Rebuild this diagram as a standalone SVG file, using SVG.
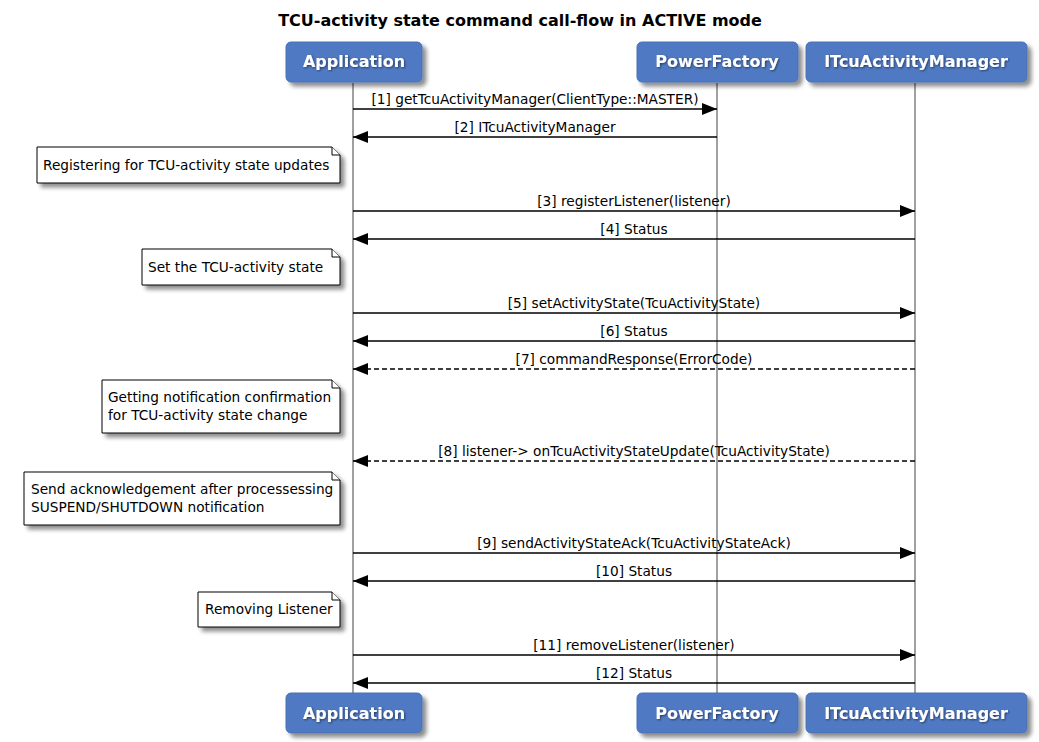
<svg xmlns="http://www.w3.org/2000/svg" width="1039" height="742" viewBox="0 0 1039 742">
<style>
.title{font-family:"DejaVu Sans",sans-serif;font-weight:bold;font-size:16px;fill:#000}
.pbox{fill:#5079C2;stroke:#4A70B5;stroke-width:1}
.pname{font-family:"DejaVu Sans",sans-serif;font-weight:bold;font-size:16px;fill:#fff;text-anchor:middle}
.life{stroke:#A0A0A0;stroke-width:2;fill:none}
.msg{stroke:#000;stroke-width:1.5;fill:none}
.dash{stroke-dasharray:5,3}
.lbl{font-family:"DejaVu Sans",sans-serif;font-size:13.7px;fill:#000;text-anchor:middle}
.note{fill:#fff;stroke:#000;stroke-width:1}
.ntxt{font-family:"DejaVu Sans",sans-serif;font-size:13.7px;fill:#000}
</style>
<defs>
<filter id="sh" x="-10%" y="-20%" width="130%" height="160%">
<feGaussianBlur in="SourceAlpha" stdDeviation="2"/>
<feOffset dx="4" dy="4" result="b"/>
<feComponentTransfer><feFuncA type="linear" slope="0.45"/></feComponentTransfer>
<feMerge><feMergeNode/><feMergeNode in="SourceGraphic"/></feMerge>
</filter>
<filter id="tsh" x="-10%" y="-30%" width="120%" height="160%">
<feGaussianBlur in="SourceAlpha" stdDeviation="1"/>
<feOffset dx="1" dy="1"/>
<feComponentTransfer><feFuncA type="linear" slope="0.5"/></feComponentTransfer>
<feMerge><feMergeNode/><feMergeNode in="SourceGraphic"/></feMerge>
</filter>
<marker id="ah" markerWidth="15" markerHeight="12" refX="15" refY="6" orient="auto" markerUnits="userSpaceOnUse">
<path d="M0,0 L15,6 L0,12 Z" fill="#000"/>
</marker>
</defs>
<rect width="1039" height="742" fill="#fff"/>
<text class="title" x="520" y="26" text-anchor="middle">TCU-activity state command call-flow in ACTIVE mode</text>

<g id="lifelines">
<line class="life" x1="353" y1="83" x2="353" y2="693"/>
<line class="life" x1="717" y1="83" x2="717" y2="693"/>
<line class="life" x1="915" y1="83" x2="915" y2="693"/>
</g>

<g id="application">
<rect class="pbox" x="286" y="42" width="136" height="40" rx="5" filter="url(#sh)"/>
<text class="pname" x="354" y="67" filter="url(#tsh)">Application</text>
<rect class="pbox" x="286" y="693" width="136" height="40" rx="5" filter="url(#sh)"/>
<text class="pname" x="354" y="719" filter="url(#tsh)">Application</text>
</g>
<g id="powerfactory">
<rect class="pbox" x="637" y="42" width="161" height="40" rx="5" filter="url(#sh)"/>
<text class="pname" x="717" y="67" filter="url(#tsh)">PowerFactory</text>
<rect class="pbox" x="637" y="693" width="161" height="40" rx="5" filter="url(#sh)"/>
<text class="pname" x="717" y="719" filter="url(#tsh)">PowerFactory</text>
</g>
<g id="itcuactivitymanager">
<rect class="pbox" x="806" y="42" width="221" height="40" rx="5" filter="url(#sh)"/>
<text class="pname" x="916" y="67" filter="url(#tsh)">ITcuActivityManager</text>
<rect class="pbox" x="806" y="693" width="221" height="40" rx="5" filter="url(#sh)"/>
<text class="pname" x="916" y="719" filter="url(#tsh)">ITcuActivityManager</text>
</g>

<g id="connectors">
<line class="msg" x1="353" y1="109" x2="717" y2="109" marker-end="url(#ah)"/>
<text class="lbl" x="535" y="104">[1] getTcuActivityManager(ClientType::MASTER)</text>
<line class="msg" x1="717" y1="137" x2="353" y2="137" marker-end="url(#ah)"/>
<text class="lbl" x="535" y="132">[2] ITcuActivityManager</text>
<line class="msg" x1="353" y1="211" x2="915" y2="211" marker-end="url(#ah)"/>
<text class="lbl" x="634" y="206">[3] registerListener(listener)</text>
<line class="msg" x1="915" y1="239" x2="353" y2="239" marker-end="url(#ah)"/>
<text class="lbl" x="634" y="234">[4] Status</text>
<line class="msg" x1="353" y1="313" x2="915" y2="313" marker-end="url(#ah)"/>
<text class="lbl" x="634" y="308">[5] setActivityState(TcuActivityState)</text>
<line class="msg" x1="915" y1="341" x2="353" y2="341" marker-end="url(#ah)"/>
<text class="lbl" x="634" y="336">[6] Status</text>
<line class="msg dash" x1="915" y1="369" x2="353" y2="369" marker-end="url(#ah)"/>
<text class="lbl" x="634" y="364">[7] commandResponse(ErrorCode)</text>
<line class="msg dash" x1="915" y1="461" x2="353" y2="461" marker-end="url(#ah)"/>
<text class="lbl" x="634" y="456">[8] listener-&gt; onTcuActivityStateUpdate(TcuActivityState)</text>
<line class="msg" x1="353" y1="553" x2="915" y2="553" marker-end="url(#ah)"/>
<text class="lbl" x="634" y="548">[9] sendActivityStateAck(TcuActivityStateAck)</text>
<line class="msg" x1="915" y1="581" x2="353" y2="581" marker-end="url(#ah)"/>
<text class="lbl" x="634" y="576">[10] Status</text>
<line class="msg" x1="353" y1="655" x2="915" y2="655" marker-end="url(#ah)"/>
<text class="lbl" x="634" y="650">[11] removeListener(listener)</text>
<line class="msg" x1="915" y1="683" x2="353" y2="683" marker-end="url(#ah)"/>
<text class="lbl" x="634" y="678">[12] Status</text>
</g>

<g id="note1">
<path class="note" d="M37,147 H332 L340,155 V183 H37 Z" filter="url(#sh)"/>
<path class="note" d="M332,147 V155 H340"/>
<text class="ntxt" x="43" y="170">Registering for TCU-activity state updates</text>
</g>
<g id="note2">
<path class="note" d="M142,249 H332 L340,257 V285 H142 Z" filter="url(#sh)"/>
<path class="note" d="M332,249 V257 H340"/>
<text class="ntxt" x="148" y="272">Set the TCU-activity state</text>
</g>
<g id="note3">
<path class="note" d="M102,380 H332 L340,388 V433 H102 Z" filter="url(#sh)"/>
<path class="note" d="M332,380 V388 H340"/>
<text class="ntxt" x="108" y="402">Getting notification confirmation</text>
<text class="ntxt" x="108" y="420">for TCU-activity state change</text>
</g>
<g id="note4">
<path class="note" d="M24,472 H332 L340,480 V525 H24 Z" filter="url(#sh)"/>
<path class="note" d="M332,472 V480 H340"/>
<text class="ntxt" x="31" y="494">Send acknowledgement after processessing</text>
<text class="ntxt" x="31" y="512">SUSPEND/SHUTDOWN notification</text>
</g>
<g id="note5">
<path class="note" d="M198,592 H332 L340,600 V627 H198 Z" filter="url(#sh)"/>
<path class="note" d="M332,592 V600 H340"/>
<text class="ntxt" x="205" y="614">Removing Listener</text>
</g>
</svg>
